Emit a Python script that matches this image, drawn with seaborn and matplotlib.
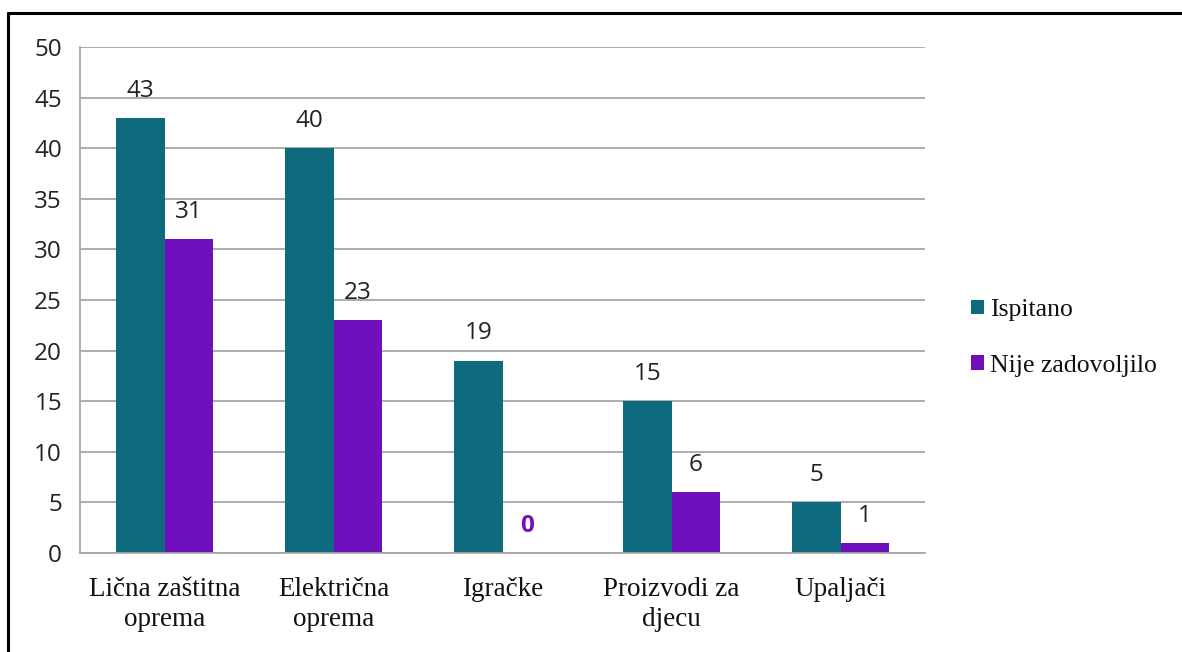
import pandas as pd
import matplotlib as mpl
mpl.use('Agg')
import matplotlib.pyplot as plt
from matplotlib.lines import Line2D
from matplotlib.patches import Patch
import seaborn as sns

# data
categories = ['Lična zaštitna\noprema', 'Električna\noprema', 'Igračke',
              'Proizvodi za\ndjecu', 'Upaljači']
ispitano = [43, 40, 19, 15, 5]
nije_zadovoljilo = [31, 23, 0, 6, 1]
series = ['Ispitano', 'Nije zadovoljilo']
colors = ['#0E6A7D', '#7010BD']

df = pd.DataFrame({
    'kategorija': categories * 2,
    'serija': [series[0]] * len(categories) + [series[1]] * len(categories),
    'broj': ispitano + nije_zadovoljilo,
})

sns.set_style('white')
serif = ['Liberation Serif', 'DejaVu Serif']
sans = ['Open Sans', 'DejaVu Sans']

fig = plt.figure(figsize=(11.82, 6.52), dpi=100)
ax = fig.add_axes([80 / 1182, 1 - 553 / 652, 845 / 1182, 506 / 652])

sns.barplot(data=df, x='kategorija', y='broj', hue='serija', palette=colors,
            width=0.57, saturation=1, dodge=True, gap=0, ax=ax, legend=False,
            linewidth=0, edgecolor='none')

ax.set_ylim(0, 50)
ax.set_xlim(-0.5, len(categories) - 0.5)
ax.set_yticks(range(0, 51, 5))
ax.grid(axis='y', color='#a6a6a6', linewidth=1.3)
ax.set_axisbelow(True)
ax.set_xlabel('')
ax.set_ylabel('')

for s in ['top', 'right']:
    ax.spines[s].set_visible(False)
ax.spines['left'].set_color('#a6a6a6')
ax.spines['bottom'].set_color('#a6a6a6')
ax.spines['left'].set_linewidth(1.3)
ax.spines['bottom'].set_linewidth(1.3)

ax.tick_params(axis='y', length=8, color='#a6a6a6', width=1.3, labelsize=17.5,
               pad=5, labelcolor='#222222')
for t in ax.get_yticklabels():
    t.set_fontfamily(sans)
ax.set_xticks(range(len(categories)))
ax.set_xticklabels(categories, fontfamily=serif, fontsize=19.5, linespacing=1.3,
                   color='#111111')
ax.tick_params(axis='x', length=0, pad=17)
ax.set_xticks([i - 0.5 for i in range(len(categories) + 1)], minor=True)
ax.tick_params(axis='x', which='minor', length=10, color='#a6a6a6', width=1.3)

# value labels
for cont in ax.containers:
    labels = ax.bar_label(cont, padding=11, fontsize=17.5, fontfamily=sans, color='#222222')
    for lab, val in zip(labels, cont.datavalues):
        if val == 0:
            lab.set_color(colors[1])
            lab.set_fontweight('bold')
            lab.set_bbox(dict(facecolor='white', edgecolor='none', pad=2))

handles = [Patch(facecolor=c, edgecolor='none') for c in colors]
fig.legend(handles, series, loc='upper left', bbox_to_anchor=(948 / 1182, 1 - 276 / 652),
           frameon=False, prop={'family': 'Liberation Serif', 'size': 18.5},
           handlelength=0.5, handleheight=0.5, handletextpad=0.25, labelspacing=1.3,
           labelcolor='#111111')

# frame lines around the picture
fig.add_artist(Line2D([8 / 1182, 1], [1 - 13 / 652, 1 - 13 / 652], color='black', linewidth=2.2))
fig.add_artist(Line2D([8 / 1182, 8 / 1182], [0, 1 - 13 / 652], color='black', linewidth=2.2))

fig.savefig('out.png', dpi=100)
